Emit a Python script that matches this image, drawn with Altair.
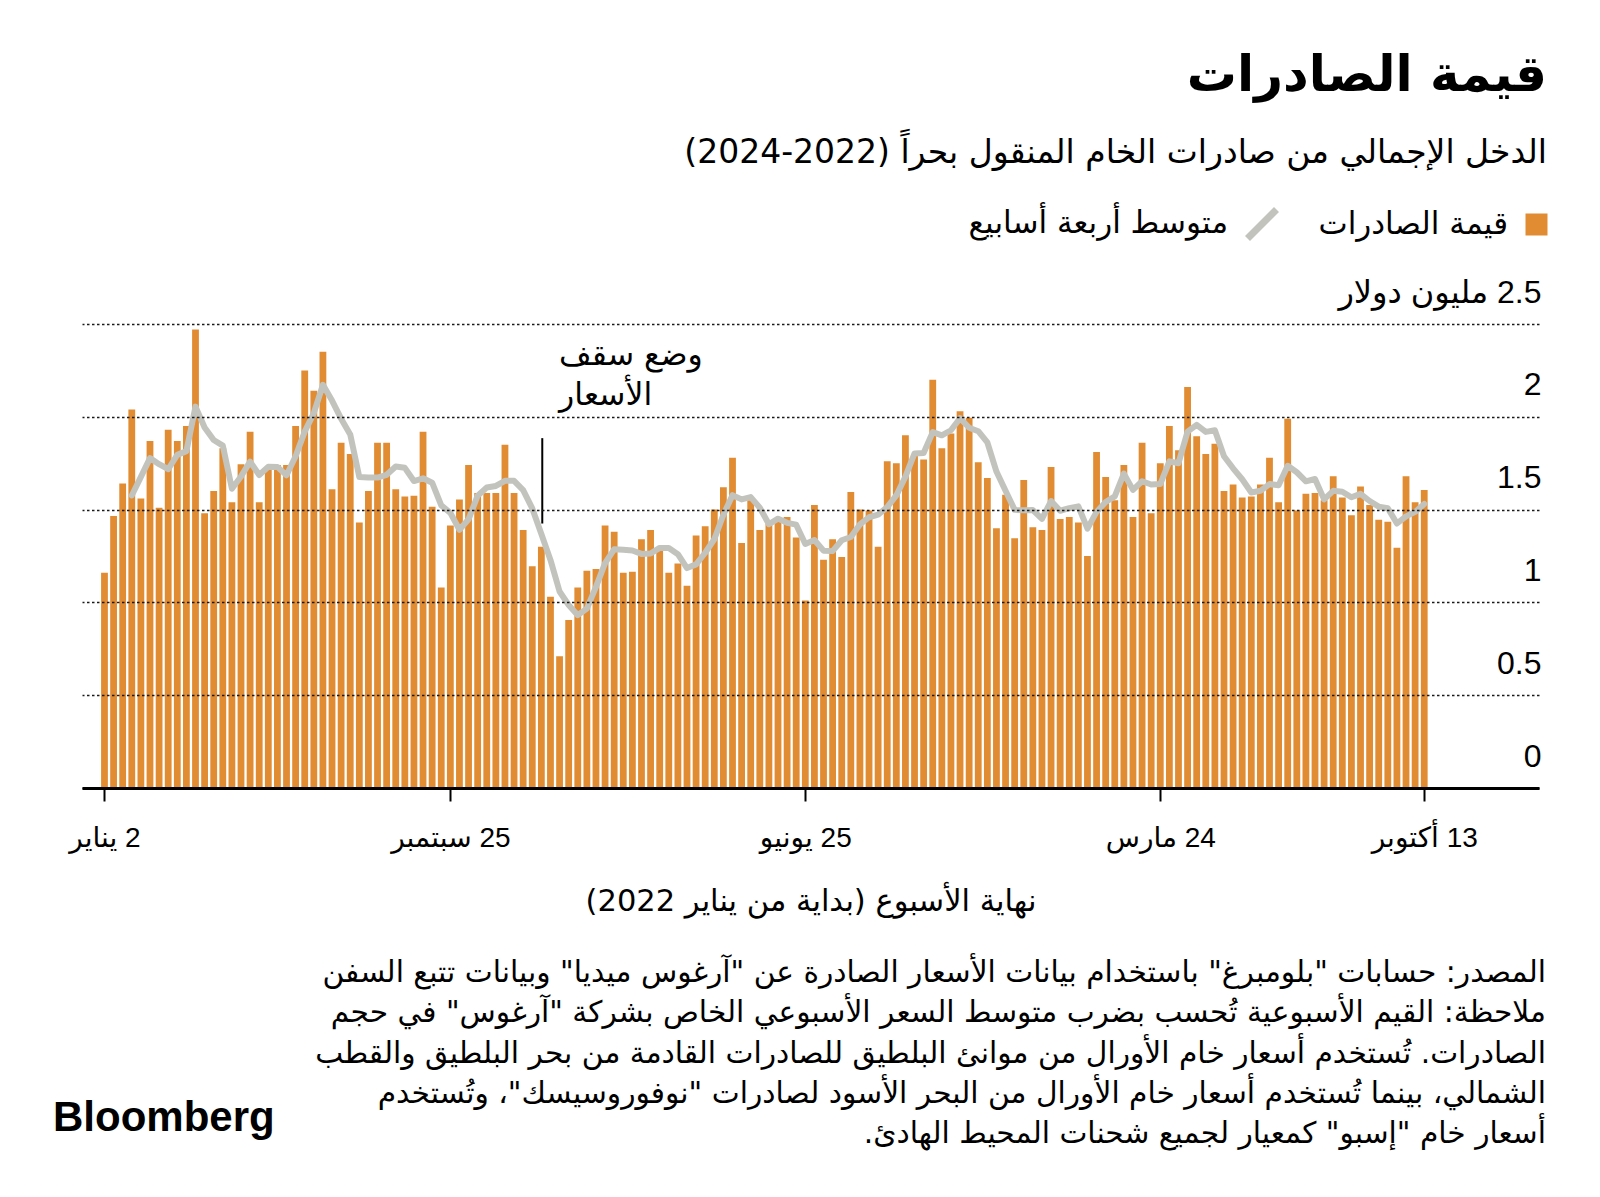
import json
import altair as alt
import pandas as pd

# ---------------- data ----------------
values = [
    1.16, 1.465, 1.64, 2.04, 1.56, 1.87, 1.51, 1.93, 1.87, 1.95,
    2.47, 1.48, 1.60, 1.83, 1.54, 1.745, 1.92, 1.54, 1.72, 1.74,
    1.74, 1.95, 2.25, 2.14, 2.35, 1.61, 1.86, 1.80, 1.43, 1.60,
    1.86, 1.86, 1.61, 1.57, 1.575, 1.92, 1.515, 1.08, 1.415, 1.555,
    1.74, 1.59, 1.59, 1.59, 1.85, 1.59, 1.39, 1.195, 1.30, 1.03,
    0.71, 0.905, 1.08, 1.17, 1.18, 1.415, 1.38, 1.16, 1.165, 1.34,
    1.39, 1.28, 1.16, 1.21, 1.09, 1.36, 1.41, 1.50, 1.62, 1.78,
    1.32, 1.55, 1.39, 1.425, 1.44, 1.46, 1.35, 1.01, 1.525, 1.23,
    1.34, 1.245, 1.595, 1.50, 1.495, 1.30, 1.76, 1.75, 1.90,
    1.80, 1.77, 2.20, 1.83, 1.91, 2.03, 1.995, 1.755, 1.67, 1.40,
    1.58, 1.345, 1.66, 1.405, 1.39, 1.73, 1.45, 1.46, 1.43, 1.25,
    1.81, 1.675, 1.55, 1.74, 1.46, 1.86, 1.48, 1.75, 1.95, 1.82,
    2.16, 1.895, 1.80, 1.855, 1.60, 1.635, 1.565, 1.57, 1.635, 1.78,
    1.54, 1.99, 1.495, 1.585, 1.59, 1.55, 1.68, 1.565, 1.47, 1.625,
    1.525, 1.445, 1.435, 1.295, 1.68, 1.54, 1.605,
]
weeks = list(range(len(values)))  # week index, 0 = week ending 2 Jan 2022

tick_weeks = [0, 38, 77, 116, 145]
tick_labels = ["2 يناير", "25 سبتمبر", "25 يونيو", "24 مارس", "13 أكتوبر"]
y_ticks = [0, 0.5, 1, 1.5, 2, 2.5]
y_unit = "2.5 مليون دولار"

cap_week = [48.1]          # 5 Dec 2022
cap_low = [1.425]
cap_high = [1.885]
cap_lines = ["وضع سقف", "الأسعار"]
cap_text_week = [49.95]
cap_text_value = [2.28]

title_text = "قيمة الصادرات"
subtitle_text = "الدخل الإجمالي من صادرات الخام المنقول بحراً (2022-2024)"
legend_bar = "قيمة الصادرات"
legend_line = "متوسط أربعة أسابيع"
x_title = "نهاية الأسبوع (بداية من يناير 2022)"
notes = [
    'المصدر: حسابات "بلومبرغ" باستخدام بيانات الأسعار الصادرة عن "آرغوس ميديا" وبيانات تتبع السفن',
    'ملاحظة: القيم الأسبوعية تُحسب بضرب متوسط السعر الأسبوعي الخاص بشركة "آرغوس" في حجم',
    'الصادرات. تُستخدم أسعار خام الأورال من موانئ البلطيق للصادرات القادمة من بحر البلطيق والقطب',
    'الشمالي، بينما تُستخدم أسعار خام الأورال من البحر الأسود لصادرات "نوفوروسيسك"، وتُستخدم',
    'أسعار خام "إسبو" كمعيار لجميع شحنات المحيط الهادئ.',
]
logo = "Bloomberg"

# ---------------- styling ----------------
ORANGE = "#E18C32"
GREY = "#C3C3BE"
AR = "DejaVu Sans"
NUM = "Liberation Sans, DejaVu Sans"
W, H = 1457, 464


def rtl(s):
    return "\u202B" + s + "\u202C"


df = pd.DataFrame({"week": weeks, "value": values})
df["s1"] = legend_bar
df["s2"] = legend_line

x_scale = alt.Scale(domain=[-2.47, 157.61], nice=False, zero=False, padding=0)
y_scale = alt.Scale(domain=[0, 2.5], nice=False)

x_label_expr = "{}[indexof({}, datum.value)]".format(
    json.dumps([rtl(t) for t in tick_labels], ensure_ascii=False), json.dumps(tick_weeks)
)
y_label_expr = "datum.value == 2.5 ? {} : datum.label".format(
    json.dumps(rtl(y_unit), ensure_ascii=False)
)

x_axis = alt.Axis(
    orient="bottom", values=tick_weeks, labelExpr=x_label_expr,
    domain=True, domainColor="black", domainWidth=3,
    ticks=True, tickColor="black", tickWidth=2, tickSize=13,
    grid=False, labelFont=NUM, labelFontSize=28, labelColor="black",
    labelPadding=23, labelFlush=False, labelOverlap=False, labelLimit=0,
    title=rtl(x_title), titleFont=AR, titleFontSize=30.5, titleFontWeight="normal",
    titleColor="black", titlePadding=34, zindex=1,
)
y_axis = alt.Axis(
    orient="right", values=y_ticks, format="~g", labelExpr=y_label_expr,
    domain=False, ticks=False, grid=True, gridColor="#1a1a1a",
    gridDash=[2.5, 2.5], gridWidth=1.5,
    labelAlign="right", labelBaseline="alphabetic", labelOffset=-22,
    labelPadding=2, labelFont=NUM, labelFontSize=32, labelColor="black",
    labelFlush=False, labelOverlap=False, labelLimit=0, title=None, zindex=1,
)

base = alt.Chart(df)

bars = base.mark_bar(orient="vertical", size=6.8).encode(
    x=alt.X("week:Q", scale=x_scale, axis=x_axis),
    y=alt.Y("value:Q", scale=y_scale, axis=y_axis),
    fill=alt.Fill(
        "s1:N",
        scale=alt.Scale(domain=[legend_bar], range=[ORANGE]),
        legend=alt.Legend(
            title=None, orient="none", legendX=1439, legendY=-115,
            symbolType="square", symbolSize=484, symbolStrokeWidth=0,
            labelFont=AR, labelFontSize=31, labelColor="black",
            labelAlign="right", labelOffset={"expr": "-44"}, labelLimit=0,
            labelBaseline="middle", padding=0,
        ),
    ),
)

line = base.transform_window(
    ma="mean(value)", frame=[-3, 0], sort=[alt.SortField("week")]
).transform_filter(alt.datum.week >= 3).mark_line(
    strokeWidth=6, strokeJoin="round", strokeCap="round"
).encode(
    x="week:Q",
    y="ma:Q",
    stroke=alt.Stroke(
        "s2:N",
        scale=alt.Scale(domain=[legend_line], range=[GREY]),
        legend=alt.Legend(
            title=None, orient="none", legendX=1162, legendY=-118,
            symbolType="M-1,1L1,-1", symbolSize=841, symbolStrokeWidth=7,
            labelFont=AR, labelFontSize=31, labelColor="black",
            labelAlign="right", labelOffset={"expr": "-52"}, labelLimit=0,
            labelBaseline="middle", padding=0,
        ),
    ),
)

cap_df = pd.DataFrame({"week": cap_week, "lo": cap_low, "hi": cap_high})
cap_rule = alt.Chart(cap_df).mark_rule(color="black", strokeWidth=2).encode(
    x="week:Q", y="lo:Q", y2="hi:Q"
)

cap_text_df = pd.DataFrame({"week": cap_text_week, "v": cap_text_value,
                            "t": ["\n".join(cap_lines)]})
cap_text = alt.Chart(cap_text_df).mark_text(
    align="left", baseline="alphabetic", lineBreak="\n", lineHeight=40,
    font=AR, fontSize=31.5, color="black",
).encode(x="week:Q", y="v:Q", text="t:N")

notes_df = pd.DataFrame({"t": ["\n".join(rtl(n) for n in notes)]})
notes_mark = alt.Chart(notes_df).mark_text(
    align="right", baseline="alphabetic", lineBreak="\n", lineHeight=40.25,
    font=AR, fontSize=29.7, color="black",
).encode(x=alt.value(1464), y=alt.value(658), text="t:N")

logo_df = pd.DataFrame({"t": [logo]})
logo_mark = alt.Chart(logo_df).mark_text(
    align="left", baseline="alphabetic", font="Liberation Sans",
    fontWeight="bold", fontSize=42, color="black",
).encode(x=alt.value(-29), y=alt.value(807), text="t:N")

chart = alt.layer(bars, line, cap_rule, cap_text, notes_mark, logo_mark).properties(
    width=W, height=H,
    title=alt.TitleParams(
        text=title_text, subtitle=rtl(subtitle_text), anchor="end", orient="top",
        frame="group", font=AR, fontSize=50, fontWeight="bold", color="black",
        subtitleFont=AR, subtitleFontSize=33, subtitleColor="black",
        subtitlePadding=36.5, offset=36, dx=8,
    ),
    padding={"left": 74, "top": 316, "right": 45, "bottom": 380},
    autosize=alt.AutoSizeParams(type="none"),
    background="white",
).configure_view(stroke=None)

chart.save("out.html", embed_options={"renderer": "svg", "actions": False})
